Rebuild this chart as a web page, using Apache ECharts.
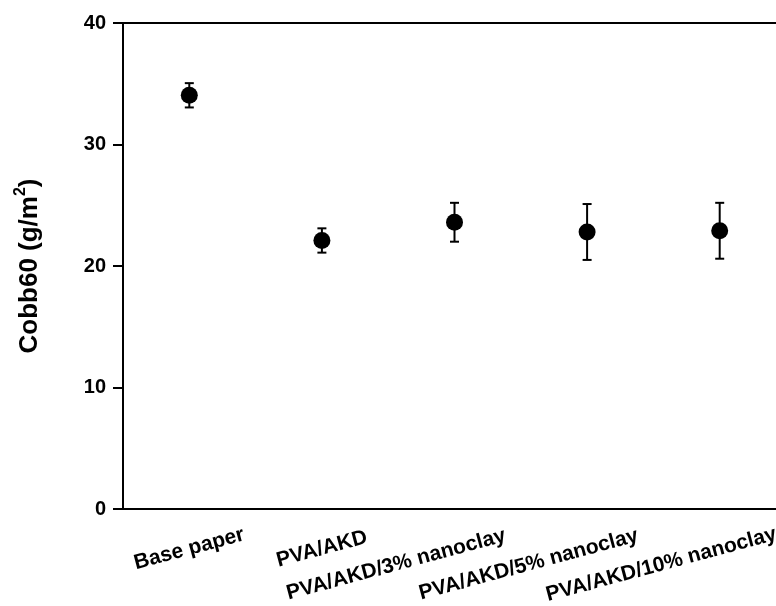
<!DOCTYPE html>
<html>
<head>
<meta charset="utf-8">
<script src="https://cdn.jsdelivr.net/npm/echarts@6/dist/echarts.min.js"></script>
<style>
html,body{margin:0;padding:0;background:#fff;}
#chart{width:776px;height:606px;}
</style>
</head>
<body>
<div id="chart"></div>
<script>
const categories = ['Base paper', 'PVA/AKD', 'PVA/AKD/3% nanoclay', 'PVA/AKD/5% nanoclay', 'PVA/AKD/10% nanoclay'];
const cobbMeans = [34.05, 22.1, 23.6, 22.8, 22.9];
const cobbErrors = [1.0, 1.0, 1.6, 2.3, 2.3];
const yTicks = [0, 10, 20, 30, 40];

const FONT = '"Liberation Sans", Arial, sans-serif';
const shifted = [false, false, true, true, true];

const chart = echarts.init(document.getElementById('chart'), null, {renderer: 'canvas'});

const xData = categories.map((c, i) => ({
  value: c,
  textStyle: {
    align: 'center',
    verticalAlign: 'middle',
    padding: shifted[i] ? [0, 121, 0, 0] : [0, 0, 0, 0]
  }
}));

const errData = categories.map((c, i) => [i, cobbMeans[i] - cobbErrors[i], cobbMeans[i] + cobbErrors[i]]);

chart.setOption({
  backgroundColor: '#ffffff',
  animation: false,
  grid: {
    left: 123, top: 23, width: 663, height: 486,
    outerBoundsMode: 'none',
    containLabel: false,
    show: true, borderColor: '#000', borderWidth: 2, backgroundColor: 'transparent'
  },
  xAxis: {
    type: 'category',
    data: xData,
    boundaryGap: true,
    axisLine: {lineStyle: {color: '#000', width: 2}},
    axisTick: {show: false},
    axisLabel: {
      interval: 0,
      rotate: 15,
      margin: 40,
      align: 'center',
      verticalAlign: 'middle',
      color: '#000',
      fontSize: 21,
      fontWeight: 'bold',
      fontFamily: FONT,
      hideOverlap: false
    },
    splitLine: {show: false}
  },
  yAxis: {
    type: 'value',
    min: yTicks[0],
    max: yTicks[yTicks.length - 1],
    interval: yTicks[1] - yTicks[0],
    name: 'Cobb60 (g/m{sup|2})',
    nameLocation: 'middle',
    nameRotate: 90,
    nameGap: 76,
    nameTextStyle: {
      color: '#000', fontSize: 26, fontWeight: 'bold', fontFamily: FONT,
      rich: {
        sup: {fontSize: 16, fontWeight: 'bold', fontFamily: FONT, color: '#000', padding: [0, 0, 18, 0]}
      }
    },
    axisLine: {show: true, lineStyle: {color: '#000', width: 2}},
    axisTick: {show: true, inside: false, length: 10, lineStyle: {color: '#000', width: 2}},
    axisLabel: {
      margin: 17, color: '#000', fontSize: 20, fontWeight: 'bold', fontFamily: FONT,
      formatter: v => String(v)
    },
    splitLine: {show: false}
  },
  series: [
    {
      type: 'custom',
      data: errData,
      z: 2,
      renderItem: function (params, api) {
        const x = api.value(0);
        const lo = api.coord([x, api.value(1)]);
        const hi = api.coord([x, api.value(2)]);
        const cap = 4.5;
        const style = {stroke: '#000', lineWidth: 2};
        return {
          type: 'group',
          children: [
            {type: 'line', shape: {x1: lo[0], y1: lo[1], x2: hi[0], y2: hi[1]}, style: style},
            {type: 'line', shape: {x1: hi[0] - cap, y1: hi[1], x2: hi[0] + cap, y2: hi[1]}, style: style},
            {type: 'line', shape: {x1: lo[0] - cap, y1: lo[1], x2: lo[0] + cap, y2: lo[1]}, style: style}
          ]
        };
      }
    },
    {
      type: 'scatter',
      data: cobbMeans,
      symbol: 'circle',
      symbolSize: 17,
      z: 3,
      itemStyle: {color: '#000', opacity: 1}
    }
  ]
});
</script>
</body>
</html>
